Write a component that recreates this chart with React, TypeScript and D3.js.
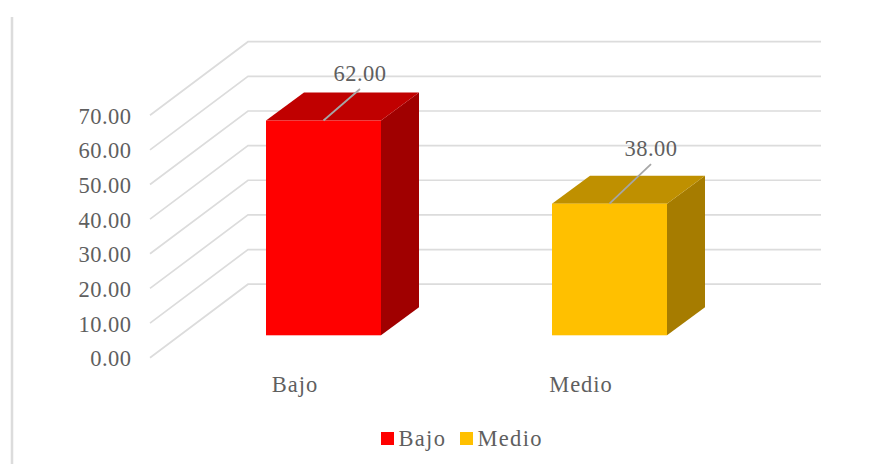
import * as d3 from "d3";

const categories = ["Bajo", "Medio"];
const values = [62, 38];
const valueLabels = ["62.00", "38.00"];
const frontColors = ["#ff0000", "#ffc000"];
const topColors = ["#c00000", "#bf9000"];
const sideColors = ["#a00000", "#a67c00"];
const ticks = [0, 10, 20, 30, 40, 50, 60, 70];

const FONT = "'Liberation Serif', 'Times New Roman', serif";
const TEXT = "#5f5f5f";
const GRID = "#dcdcdc";

// Oblique projection used for the 3D box and the floor/wall grid
const depthX = 38;
const depthY = -28;
const barWidth = 115;
const wallDepthX = 98;
const wallDepthY = -73.5;

const yFront = d3.scaleLinear().domain([0, 70]).range([335.3, 92.8]);
const yLeft = d3.scaleLinear().domain([0, 70]).range([357.7, 115.2]);
const xBar = d3.scalePoint<string>().domain(categories).range([266, 552]);
const gridLeft = 150;
const gridRight = 821;

// Hand-placed data label callouts, relative to the centre of each bar's top edge
const calloutTip = [
  { dx: 36.5, dy: -31.5 },
  { dx: 41.5, dy: -39.5 },
];
const labelAnchor = [
  { dx: 36.5, dy: -40 },
  { dx: 41.5, dy: -47.5 },
];

const poly = (pts: [number, number][]) => pts.map((p) => p.join(",")).join(" ");

export default function App() {
  return (
    <svg
      width={888}
      height={464}
      style={{ position: "absolute", left: 0, top: 0, background: "#fff" }}
      fontFamily={FONT}
    >
      <line x1={12} x2={12} y1={17} y2={464} stroke={GRID} strokeWidth={2.5} />

      {ticks.map((t) => {
        const y = yLeft(t);
        const yBack = y + wallDepthY;
        return (
          <g key={t}>
            <polyline
              points={poly([
                [gridLeft, y],
                [gridLeft + wallDepthX, yBack],
                [gridRight, yBack],
              ])}
              fill="none"
              stroke={GRID}
              strokeWidth={1.7}
            />
            <text
              x={131.5}
              y={y + 8.5}
              textAnchor="end"
              fontSize={22.5}
              letterSpacing={0.5}
              fill={TEXT}
            >
              {t.toFixed(2)}
            </text>
          </g>
        );
      })}

      {categories.map((c, i) => {
        const x0 = xBar(c)!;
        const x1 = x0 + barWidth;
        const yTop = yFront(values[i]);
        const yBase = yFront(0);
        const cx = x0 + barWidth / 2;
        return (
          <g key={c}>
            <polygon
              points={poly([
                [x1, yTop],
                [x1 + depthX, yTop + depthY],
                [x1 + depthX, yBase + depthY],
                [x1, yBase],
              ])}
              fill={sideColors[i]}
            />
            <polygon
              points={poly([
                [x0, yTop],
                [x0 + depthX, yTop + depthY],
                [x1 + depthX, yTop + depthY],
                [x1, yTop],
              ])}
              fill={topColors[i]}
            />
            <rect x={x0} y={yTop} width={barWidth} height={yBase - yTop} fill={frontColors[i]} />
            <line
              x1={cx}
              y1={yTop}
              x2={cx + calloutTip[i].dx}
              y2={yTop + calloutTip[i].dy}
              stroke="#a6a6a6"
              strokeWidth={1.8}
            />
            <text
              x={cx + labelAnchor[i].dx}
              y={yTop + labelAnchor[i].dy}
              textAnchor="middle"
              fontSize={22.5}
              letterSpacing={0.5}
              fill={TEXT}
            >
              {valueLabels[i]}
            </text>
            <text
              x={cx - 28.5}
              y={392}
              textAnchor="middle"
              fontSize={22.5}
              letterSpacing={1}
              fill={TEXT}
            >
              {c}
            </text>
          </g>
        );
      })}

      {categories.map((c, i) => {
        const lx = [381, 460][i];
        return (
          <g key={c}>
            <rect x={lx} y={432} width={13} height={13} fill={frontColors[i]} />
            <text x={lx + 17.5} y={445.5} fontSize={22.5} letterSpacing={1.3} fill={TEXT}>
              {c}
            </text>
          </g>
        );
      })}
    </svg>
  );
}
